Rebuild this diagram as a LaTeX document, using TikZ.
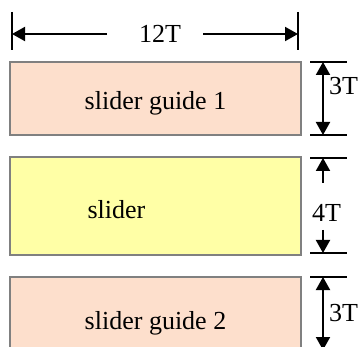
\documentclass[tikz,border=0pt]{standalone}
\usepackage{fontspec}
\setmainfont{Liberation Serif}
\usetikzlibrary{positioning,arrows.meta}

\definecolor{guidefill}{HTML}{FDDFCC}
\definecolor{sliderfill}{HTML}{FFFFA6}

\begin{document}
\begin{tikzpicture}[part/.style={rectangle,draw=black!50,line width=2pt,minimum width=291pt,inner sep=0pt,outer sep=0pt},
	dimtext/.style={inner sep=0pt,font=\fontsize{26}{30}\selectfont},
	ticks/.style={line width=2pt},
	links/.style={-{Triangle[length=13pt,width=14pt]}, line width=2pt},
	bothlinks/.style={{Triangle[length=13pt,width=14pt]}-{Triangle[length=13pt,width=14pt]}, line width=2pt}]

	\useasboundingbox (0,0) rectangle (361pt,-347pt);
	\clip (0,0) rectangle (361pt,-347pt);

	\node[part, fill=guidefill, minimum height=73pt, label={[dimtext,yshift=-5pt]center:slider guide 1}] at (155.5pt,-98.5pt) (guide1) {};
	\node[part, fill=sliderfill, minimum height=98pt, below = 22pt of guide1, label={[dimtext,xshift=-39pt,yshift=-4pt]center:slider}] (slider) {};
	\node[part, fill=guidefill, minimum height=73pt, below = 22pt of slider, label={[dimtext,yshift=-10pt]center:slider guide 2}] (guide2) {};

	% width of the parts
	\node[dimtext] at (160pt,-34pt) (width) {12T};
	\coordinate (widthleft) at (12pt,-34pt);
	\coordinate (widthright) at (298pt,-34pt);
	\coordinate (widthlefttail) at (107pt,-34pt);
	\coordinate (widthrighttail) at (203pt,-34pt);

	\draw[ticks] ([yshift=22pt]widthleft) -- ([yshift=-16pt]widthleft);
	\draw[ticks] ([yshift=22pt]widthright) -- ([yshift=-16pt]widthright);
	\draw[links] (widthlefttail) -- (widthleft);
	\draw[links] (widthrighttail) -- (widthright);

	% height of slider guide 1
	\coordinate (guide1top) at (323pt,-62pt);
	\coordinate (guide1bottom) at (323pt,-135pt);
	\node[dimtext] at (343.5pt,-86pt) (guide1height) {3T};

	\draw[ticks] ([xshift=-13pt]guide1top) -- ([xshift=24pt]guide1top);
	\draw[ticks] ([xshift=-13pt]guide1bottom) -- ([xshift=24pt]guide1bottom);
	\draw[bothlinks] (guide1top) -- (guide1bottom);

	% height of slider
	\coordinate (slidertop) at (323pt,-158pt);
	\coordinate (sliderbottom) at (323pt,-253pt);
	\coordinate (slidertoptail) at (323pt,-183pt);
	\coordinate (sliderbottomtail) at (323pt,-230pt);
	\node[dimtext] at (326.5pt,-213pt) (sliderheight) {4T};

	\draw[ticks] ([xshift=-13pt]slidertop) -- ([xshift=24pt]slidertop);
	\draw[ticks] ([xshift=-13pt]sliderbottom) -- ([xshift=24pt]sliderbottom);
	\draw[links] (slidertoptail) -- (slidertop);
	\draw[links] (sliderbottomtail) -- (sliderbottom);

	% height of slider guide 2
	\coordinate (guide2top) at (323pt,-277pt);
	\coordinate (guide2bottom) at (323pt,-350pt);
	\node[dimtext] at (343.5pt,-313pt) (guide2height) {3T};

	\draw[ticks] ([xshift=-13pt]guide2top) -- ([xshift=24pt]guide2top);
	\draw[bothlinks] (guide2top) -- (guide2bottom);
\end{tikzpicture}
\end{document}
